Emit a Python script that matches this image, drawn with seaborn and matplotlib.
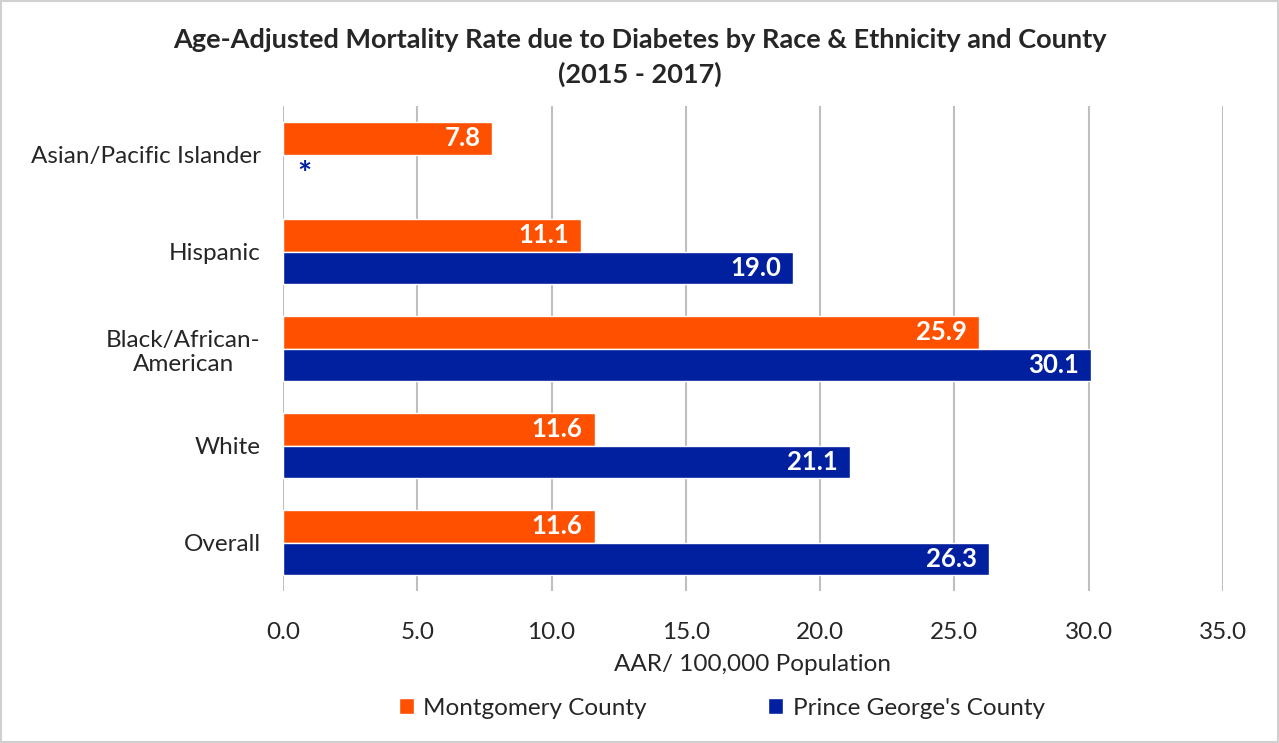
import numpy as np
import pandas as pd
import seaborn as sns
import matplotlib.pyplot as plt

categories = ["Asian/Pacific Islander", "Hispanic", "Black/African-\nAmerican", "White", "Overall"]
montgomery = [7.8, 11.1, 25.9, 11.6, 11.6]
prince_georges = [np.nan, 19.0, 30.1, 21.1, 26.3]
counties = ["Montgomery County", "Prince George's County"]
colors = ["#FF5000", "#00209F"]

df = pd.DataFrame({
    "race": categories * 2,
    "county": [counties[0]] * 5 + [counties[1]] * 5,
    "rate": montgomery + prince_georges,
})

sns.set_theme(style="white")
plt.rcParams["font.family"] = ["Lato", "DejaVu Sans"]

fig = plt.figure(figsize=(12.79, 7.43), dpi=100)
ax = fig.add_axes([283 / 1279, 1 - 591 / 743, 940 / 1279, 485 / 743])

sns.barplot(data=df, y="race", x="rate", hue="county", palette=colors, saturation=1,
            orient="h", width=0.68, ax=ax, legend=True)

ax.set_xlim(0, 35)
ax.set_xticks(np.arange(0, 35.1, 5))
ax.set_xticklabels([f"{t:.1f}" for t in np.arange(0, 35.1, 5)], fontsize=17.5)
ax.tick_params(axis="y", labelsize=17.5, length=0, pad=16)
ax.tick_params(axis="x", length=0, pad=22)
for lab in ax.get_yticklabels():
    lab.set_multialignment("center")
ax.grid(axis="x", color="#BFBFBF", lw=1.5)
ax.set_axisbelow(True)
for s in ax.spines.values():
    s.set_visible(False)
ax.set_ylabel("")
ax.set_xlabel("AAR/ 100,000 Population", fontsize=17.5, labelpad=8)

for cont in ax.containers:
    for bar in cont:
        w = bar.get_width()
        if np.isnan(w) or w == 0:
            continue
        ax.text(w - 0.45, bar.get_y() + bar.get_height() / 2, f"{w:.1f}",
                ha="right", va="center", color="white", fontsize=18.5, fontweight="bold")

# missing Prince George's value for Asian/Pacific Islander
ax.text(0.8, 0.22, "*", ha="center", va="center", color="#00209F", fontsize=24, fontweight="bold")

fig.suptitle("Age-Adjusted Mortality Rate due to Diabetes by Race & Ethnicity and County\n(2015 - 2017)",
             x=0.5, y=0.962, fontsize=19.5, fontweight="bold", linespacing=1.45)

handles, labels = ax.get_legend_handles_labels()
ax.legend(handles, labels, loc="upper center", bbox_to_anchor=(0.467, -0.175), ncol=2,
          frameon=False, fontsize=17.5, handlelength=0.6, handleheight=0.6,
          handletextpad=0.4, columnspacing=5)

fig.patches.append(plt.Rectangle((0.001, 0.001), 0.998, 0.997, transform=fig.transFigure,
                                 fill=False, edgecolor="#D0D0D0", lw=1.5))

fig.savefig("out.png", dpi=100, facecolor="white")
